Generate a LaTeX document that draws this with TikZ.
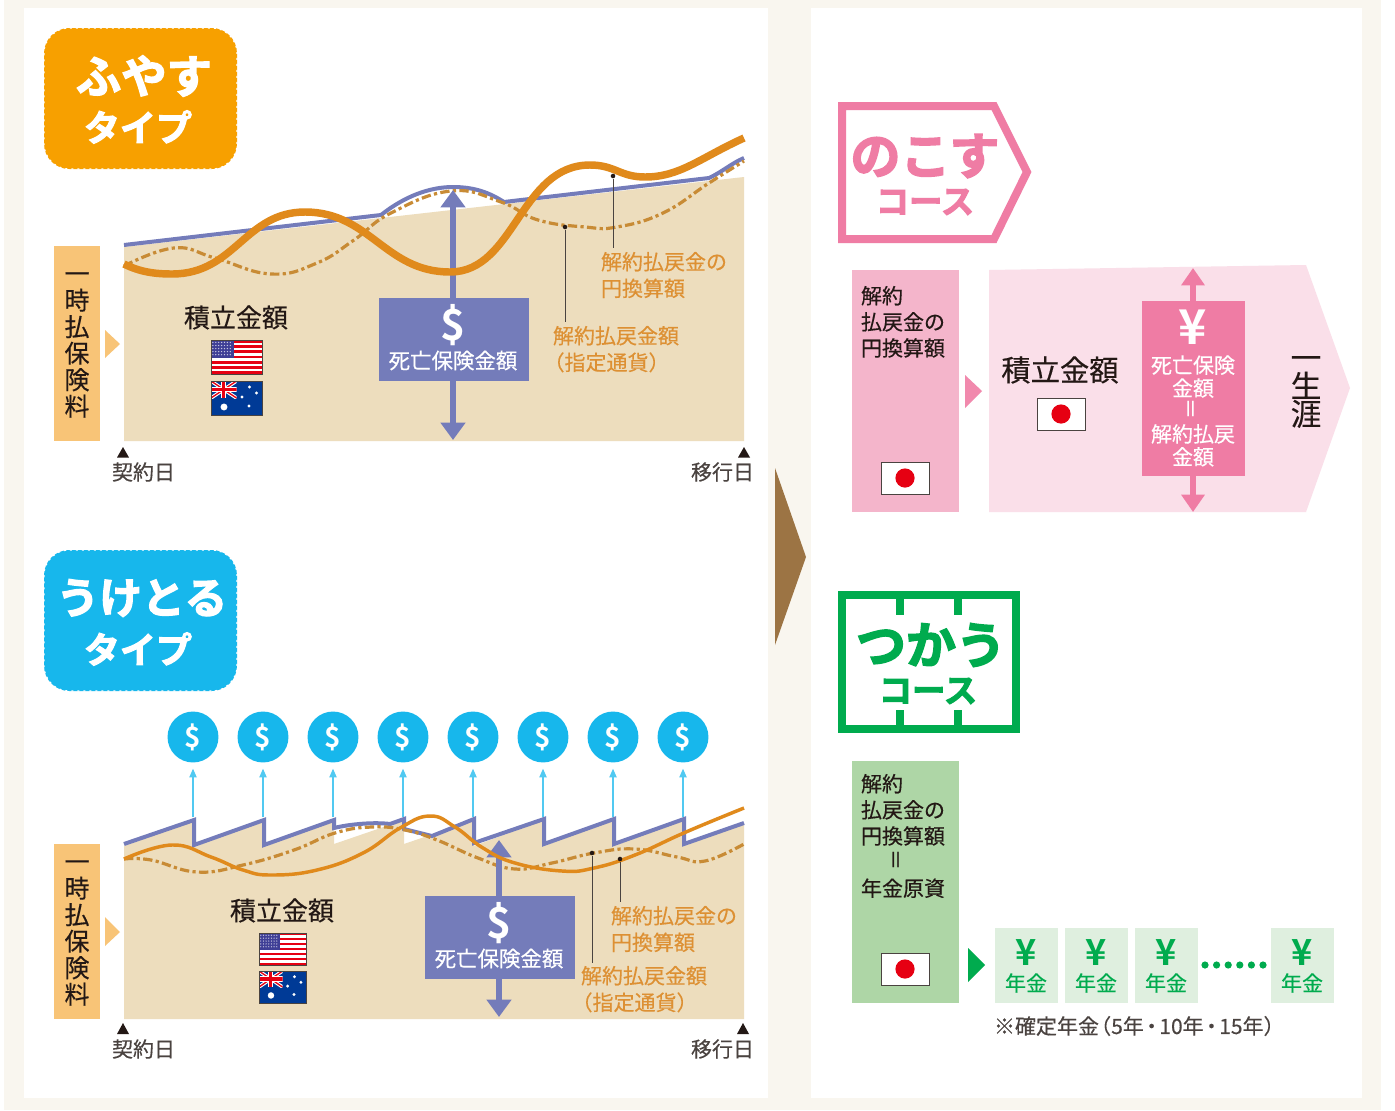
\documentclass[tikz,border=0pt]{standalone}
\usepackage{fontspec}
\usetikzlibrary{arrows.meta}
\setmainfont[FakeBold=.35]{Noto Sans CJK JP}
\newfontfamily\heavyfont[FakeBold=3]{Noto Sans CJK JP Bold}
\newfontfamily\boldjp{Noto Sans CJK JP Bold}
\newcommand{\fs}[2]{\fontsize{#1}{#2}\selectfont}
\newcommand{\eqbar}{\rotatebox{90}{＝}}
\definecolor{cream}{HTML}{F9F6EF}
\definecolor{beige}{HTML}{EDDDBD}
\definecolor{tanbox}{HTML}{F8C477}
\definecolor{chartblue}{HTML}{747CBA}
\definecolor{lineorange}{HTML}{E08A1C}
\definecolor{dashorange}{HTML}{C88B35}
\definecolor{labelorange}{HTML}{DD9033}
\definecolor{badgeorange}{HTML}{F7A000}
\definecolor{skyblue}{HTML}{17B7EC}
\definecolor{pinkmain}{HTML}{EF7CA4}
\definecolor{pinkmid}{HTML}{F4B5CB}
\definecolor{pinkpale}{HTML}{FADFE9}
\definecolor{greenmain}{HTML}{00AB4E}
\definecolor{greenmid}{HTML}{AED6A6}
\definecolor{greenpale}{HTML}{DFEFDF}
\definecolor{brownarrow}{HTML}{9C7444}
\definecolor{inkdark}{HTML}{231815}
\definecolor{inkgrey}{HTML}{4A4340}
\definecolor{usred}{HTML}{E60012}
\definecolor{usblue}{HTML}{3F3F96}
\definecolor{aunavy}{HTML}{003A96}
\tikzset{
  txt/.style={inner sep=0pt,outer sep=0pt,text=inkdark,align=center},
  lbl/.style={txt,text=labelorange,font=\fs{15.75}{20}},
  leftlbl/.style={txt,align=left,anchor=north west,font=\fs{15.75}{19.6}},
  datelbl/.style={txt,text=inkgrey,font=\fs{15.75}{20}},
  whitelbl/.style={txt,text=white,font=\fs{16.1}{20}},
  amount/.style={txt,font=\fs{19.5}{22}},
  vert/.style={txt,font=\fs{18.75}{19.9}},
  badge/.style={rounded corners=19pt},
  badgeedge/.style={draw=white,line width=.8pt,dash pattern=on 1.5pt off 3pt},
  badgebig/.style={txt,text=white,font=\heavyfont\fs{34}{40}},
  badgesmall/.style={txt,text=white,font=\heavyfont\fs{27}{30}},
  blueline/.style={draw=chartblue,line width=3pt,line join=miter},
  thick orange/.style={draw=lineorange,line width=5.6pt},
  thin orange/.style={draw=lineorange,line width=2.6pt},
  dashdot/.style={draw=dashorange,line width=2.4pt,dash pattern=on 7pt off 2.5pt on 2.4pt off 2.5pt},
  leader/.style={draw=inkgrey,line width=.6pt},
  dotend/.style={fill=inkdark,circle,inner sep=0pt,minimum size=3.4pt},
  bigarrow/.style={draw=chartblue,line width=4.4pt,{Triangle[width=18pt,length=13pt]}-{Triangle[width=18pt,length=13pt]}},
  pinkarrow/.style={draw=pinkmain,line width=5pt,{Triangle[width=17pt,length=13pt]}-{Triangle[width=17pt,length=13pt]}},
  coin/.style={circle,fill=skyblue,minimum size=38.2pt,inner sep=0pt,text=white,font=\boldjp\fs{21}{22}},
  coinarrow/.style={draw=skyblue!75,line width=.8pt,-{Triangle[width=5.5pt,length=6.5pt]},shorten >=4.5pt},
  boxblue/.style={fill=chartblue},
  yennode/.style={txt,text=greenmain,font=\boldjp\fs{27}{28}},
  nenkin/.style={txt,text=greenmain,font=\fs{15.75}{18}},
  datemark/.style={fill=inkdark}
}
% flags: left, top, width, height in picture units
\newcommand{\jpflag}[2]{%
  \fill[white,draw=inkgrey,line width=.6pt] (#1,#2) rectangle ++(48,32);
  \fill[usred] (#1+24,#2+16) circle (7.2pt);
}
\newcommand{\usflag}[4]{%
  \begin{scope}[shift={(#1,#2)},xscale=#3/51,yscale=#4/34]
    \fill[white] (0,0) rectangle (51,34);
    \foreach \s in {0,2,...,12} \fill[usred] (0,\s*2.615) rectangle (51,\s*2.615+2.615);
    \fill[usblue] (0,0) rectangle (23,18.3);
    \foreach \a in {1,...,7} \foreach \b in {1,...,5} \fill[white!70!usblue] (\a*2.9-1,\b*3.05-.6) circle (.55pt);
    \draw[inkgrey,line width=.5pt] (0,0) rectangle (51,34);
  \end{scope}
}
\newcommand{\auflag}[4]{%
  \begin{scope}[shift={(#1,#2)},xscale=#3/51,yscale=#4/34]
    \fill[aunavy] (0,0) rectangle (51,34);
    \begin{scope}
      \clip (0,0) rectangle (25.5,17);
      \draw[white,line width=2.6pt] (0,0) -- (25.5,17) (25.5,0) -- (0,17);
      \draw[usred,line width=1pt] (0,0) -- (25.5,17) (25.5,0) -- (0,17);
      \draw[white,line width=4pt] (12.75,0) -- (12.75,17) (0,8.5) -- (25.5,8.5);
      \draw[usred,line width=2.4pt] (12.75,0) -- (12.75,17) (0,8.5) -- (25.5,8.5);
    \end{scope}
    \foreach \a/\b in {38.5/6,45.5/12,31/16,38/25} \fill[white] (\a,\b) circle (1.3pt);
    \fill[white] (13,26) circle (2.6pt);
    \draw[inkgrey,line width=.5pt] (0,0) rectangle (51,34);
  \end{scope}
}
\begin{document}
\begin{tikzpicture}[x=.75pt,y=-.75pt]
\useasboundingbox (0,0) rectangle (1395,1110);
\fill[white] (0,0) rectangle (1395,1110);
\fill[cream] (4,0) rectangle (1381,1110);
\fill[white] (24,8) rectangle (768,1098);
\fill[white] (811,8) rectangle (1362,1098);
\fill[brownarrow] (775,468) -- (806,557) -- (775,645) -- cycle;

% ---------- upper chart ----------
\fill[badgeorange,badge] (44,28) rectangle (237,169);
\draw[badgeedge,badge] (44,28) rectangle (237,169);
\node[badgebig] (fuyasu) at (144,76) {ふやす};
\node[badgesmall] (fuyasuT) at (138,127) {タイプ};

\fill[beige] (124,441) -- (124,247) -- (744,177) -- (744,441) -- cycle;
\fill[tanbox] (54,246) rectangle (100,441);
\fill[tanbox] (105,330) -- (120,344) -- (105,358) -- cycle;
\node[vert] (premA) at (77,345) {一\\時\\払\\保\\険\\料};
\draw[blueline] (124,245) -- (381,215)
  .. controls (405,196) and (430,187) .. (453,187) .. controls (475,187) and (490,193) .. (504,202)
  -- (709,178) .. controls (722,172) and (732,163) .. (744,158);
\coordinate (dbAtop) at (453,190);
\coordinate (dbAbot) at (453,440);
\draw[dashdot] plot[smooth,tension=.75] coordinates {(124,266) (174,248) (215,258) (271,274) (317,263) (354,240) (391,213) (451,191) (501,202) (538,220) (585,227) (617,227) (663,213) (709,183) (744,161)};
\draw[bigarrow] (dbAtop) -- (dbAbot);
\draw[thick orange] (124,264) .. controls (140,272) and (155,274) .. (172,274)
  .. controls (235,274) and (245,212) .. (305,212)
  .. controls (370,212) and (385,272) .. (450,272)
  .. controls (515,272) and (520,165) .. (590,165)
  .. controls (615,165) and (620,177) .. (645,177)
  .. controls (680,177) and (700,158) .. (744,138);
\node[dotend] (dA1) at (613,176) {};
\node[dotend] (dA2) at (565,227) {};
\coordinate (lA1) at (613,248);
\coordinate (lA2) at (565,322);
\draw[leader] (dA1) -- (lA1);
\draw[leader] (dA2) -- (lA2);
\node[lbl,align=left,anchor=north west] (refA) at (601,252) {解約払戻金の\\円換算額};
\node[lbl,align=left,anchor=north west] (paidA) at (553,326) {解約払戻金額\\\hspace*{-.45em}（指定通貨）};
\node[boxblue,minimum width=112.5pt,minimum height=62.25pt,inner sep=0pt] (deathA) at (454,339.5) {};
\node[whitelbl,font=\boldjp\fs{32}{33}] (usdA) at (453,325) {\$};
\node[whitelbl] (deathAT) at (453,360.5) {死亡保険金額};
\node[amount] (amtA) at (236,317.5) {積立金額};
\usflag{211}{340}{51}{34}
\auflag{211}{381}{51}{34}
\fill[datemark] (123,447) -- (129,457.5) -- (117,457.5) -- cycle;
\fill[datemark] (744,447) -- (750,457.5) -- (738,457.5) -- cycle;
\node[datelbl] (startA) at (143.5,472) {契約日};
\node[datelbl] (endA) at (722.5,472) {移行日};

% ---------- lower chart ----------
\fill[skyblue,badge] (44,550) rectangle (237,691);
\draw[badgeedge,badge] (44,550) rectangle (237,691);
\node[badgebig,font=\heavyfont\fs{32}{40}] (uketoru) at (142,598) {うけとる};
\node[badgesmall] (uketoruT) at (138,649) {タイプ};

\fill[beige] (124,1019) -- (124,846) -- (194,821) -- (194,847) -- (264,821) -- (264,847) -- (334,821) -- (334,844) -- (404,820) -- (404,844) -- (474,820) -- (474,846) -- (544,820) -- (544,846) -- (614,820) -- (614,846) -- (684,820) -- (684,846) -- (744,824) -- (744,1019) -- cycle;
\fill[tanbox] (54,844) rectangle (100,1019);
\fill[tanbox] (105,917) -- (120,932) -- (105,946) -- cycle;
\node[vert] (premB) at (77,933) {一\\時\\払\\保\\険\\料};
\draw[blueline] (124,844) -- (194,820) -- (194,845) -- (264,820) -- (264,845) -- (334,820) -- (334,828)
  .. controls (350,824) and (375,822) .. (390,824) -- (404,819) -- (404,829) -- (432,836) -- (474,819) -- (474,843) -- (544,819) -- (544,844) -- (614,819) -- (614,844) -- (684,819) -- (684,844) -- (744,823);
\foreach \i/\xx in {1/193,2/263,3/333,4/403,5/473,6/543,7/613,8/683} {
  \node[coin] (coin\i) at (\xx,737) {\$};
  \coordinate (foot\i) at (\xx,817);
  \draw[coinarrow] (foot\i) -- (coin\i.south);
}
\draw[dashdot] plot[smooth,tension=.75] coordinates {(124,859) (151,860) (197,872) (243,865) (294,850) (335,833) (372,827) (405,830) (437,840) (478,858) (515,869) (552,863) (594,853) (635,849) (677,857) (705,861) (744,844)};
\coordinate (dbBtop) at (499,840);
\coordinate (dbBbot) at (499,1017);
\draw[bigarrow] (dbBtop) -- (dbBbot);
\draw[thin orange] plot[smooth,tension=.75] coordinates {(124,859) (172,845) (211,857) (243,870) (271,875) (317,870) (363,853) (400,828) (430,816) (455,827) (483,848) (515,863) (562,871) (594,868) (635,855) (686,832) (744,808)};
\node[dotend] (dB1) at (592,853) {};
\node[dotend] (dB2) at (620,859) {};
\coordinate (lB1) at (592,963);
\coordinate (lB2) at (620,902);
\draw[leader] (dB1) -- (lB1);
\draw[leader] (dB2) -- (lB2);
\node[lbl,align=left,anchor=north west] (refB) at (611,906) {解約払戻金の\\円換算額};
\node[lbl,align=left,anchor=north west] (paidB) at (581,966) {解約払戻金額\\\hspace*{-.45em}（指定通貨）};
\node[boxblue,minimum width=112.5pt,minimum height=62.25pt,inner sep=0pt] (deathB) at (500,937.5) {};
\node[whitelbl,font=\boldjp\fs{32}{33}] (usdB) at (499,923) {\$};
\node[whitelbl] (deathBT) at (499,958.5) {死亡保険金額};
\node[amount] (amtB) at (282,910.5) {積立金額};
\usflag{259}{933}{47}{32}
\auflag{259}{971}{47}{32}
\fill[datemark] (123,1023) -- (129,1034) -- (117,1034) -- cycle;
\fill[datemark] (743,1023) -- (749,1034) -- (737,1034) -- cycle;
\node[datelbl] (startB) at (143.5,1049) {契約日};
\node[datelbl] (endB) at (722.5,1049) {移行日};

% ---------- nokosu course ----------
\draw[pinkmain,line width=6pt,miter limit=10] (842,106) -- (994,106) -- (1027,172) -- (994,239) -- (842,239) -- cycle;
\node[txt,text=pinkmain,font=\heavyfont\fs{37.5}{42}] (nokosu) at (925,156) {のこす};
\node[txt,text=pinkmain,font=\heavyfont\fs{25}{28}] (nokosuC) at (925,202) {コース};
\fill[pinkmid] (852,270) rectangle (959,512);
\node[leftlbl] (pinkT) at (861,286) {解約\\払戻金の\\円換算額};
\jpflag{881}{462}
\fill[pinkmain!90!white] (965,375) -- (982,391) -- (965,408) -- cycle;
\fill[pinkpale] (989,270) -- (1306,265) -- (1350,388) -- (1306,512) -- (989,512) -- cycle;
\node[txt,font=\fs{22}{24}] (amtP) at (1060,370) {積立金額};
\jpflag{1037}{398}
\coordinate (yenTop) at (1193,268);
\coordinate (yenBot) at (1193,512);
\draw[pinkarrow] (yenTop) -- (yenBot);
\fill[pinkmain] (1142,301) rectangle (1245,476);
\node[txt,text=white,font=\boldjp\fs{36}{36}] (yenP) at (1193,327) {¥};
\node[whitelbl,font=\fs{15.75}{17.2}] (deathP) at (1193,411) {死亡保険\\金額\\\eqbar\\解約払戻\\金額};
\node[vert,font=\fs{23}{21}] (life) at (1306,392) {一\\生\\涯};

% ---------- tsukau course ----------
\draw[greenmain,line width=6pt,miter limit=10] (842,595) rectangle (1016,729);
\draw[greenmain,line width=6pt] (900,595) -- (900,615) (958,595) -- (958,615) (900,710) -- (900,729) (958,710) -- (958,729);
\node[txt,text=greenmain,font=\heavyfont\fs{37.5}{42}] (tsukau) at (931,645) {つかう};
\node[txt,text=greenmain,font=\heavyfont\fs{25}{28}] (tsukauC) at (928,691) {コース};
\fill[greenmid] (852,761) rectangle (959,1003);
\node[leftlbl] (greenT) at (861,774) {解約\\払戻金の\\円換算額\\\hspace*{1.5em}\eqbar\\年金原資};
\jpflag{881}{953}
\fill[greenmain] (968,948) -- (985,965) -- (968,982) -- cycle;
\foreach \i/\xl in {1/995,2/1065,3/1135,4/1271} {
  \fill[greenpale] (\xl,928) rectangle ++(63,75);
  \node[yennode] (yen\i) at (\xl+31,953) {¥};
  \node[nenkin] (nen\i) at (\xl+31,983) {年金};
}
\foreach \xx in {1205,1216.6,1228.2,1239.8,1251.4,1263} \fill[greenmain] (\xx,965) circle (2.7pt);
\node[txt,text=inkgrey,font=\fs{15.75}{18},anchor=west] (noteT) at (994,1026) {※確定年金\kern-.42em（5年\kern-.13em・\kern-.13em10年\kern-.13em・\kern-.13em15年）};
\end{tikzpicture}
\end{document}
